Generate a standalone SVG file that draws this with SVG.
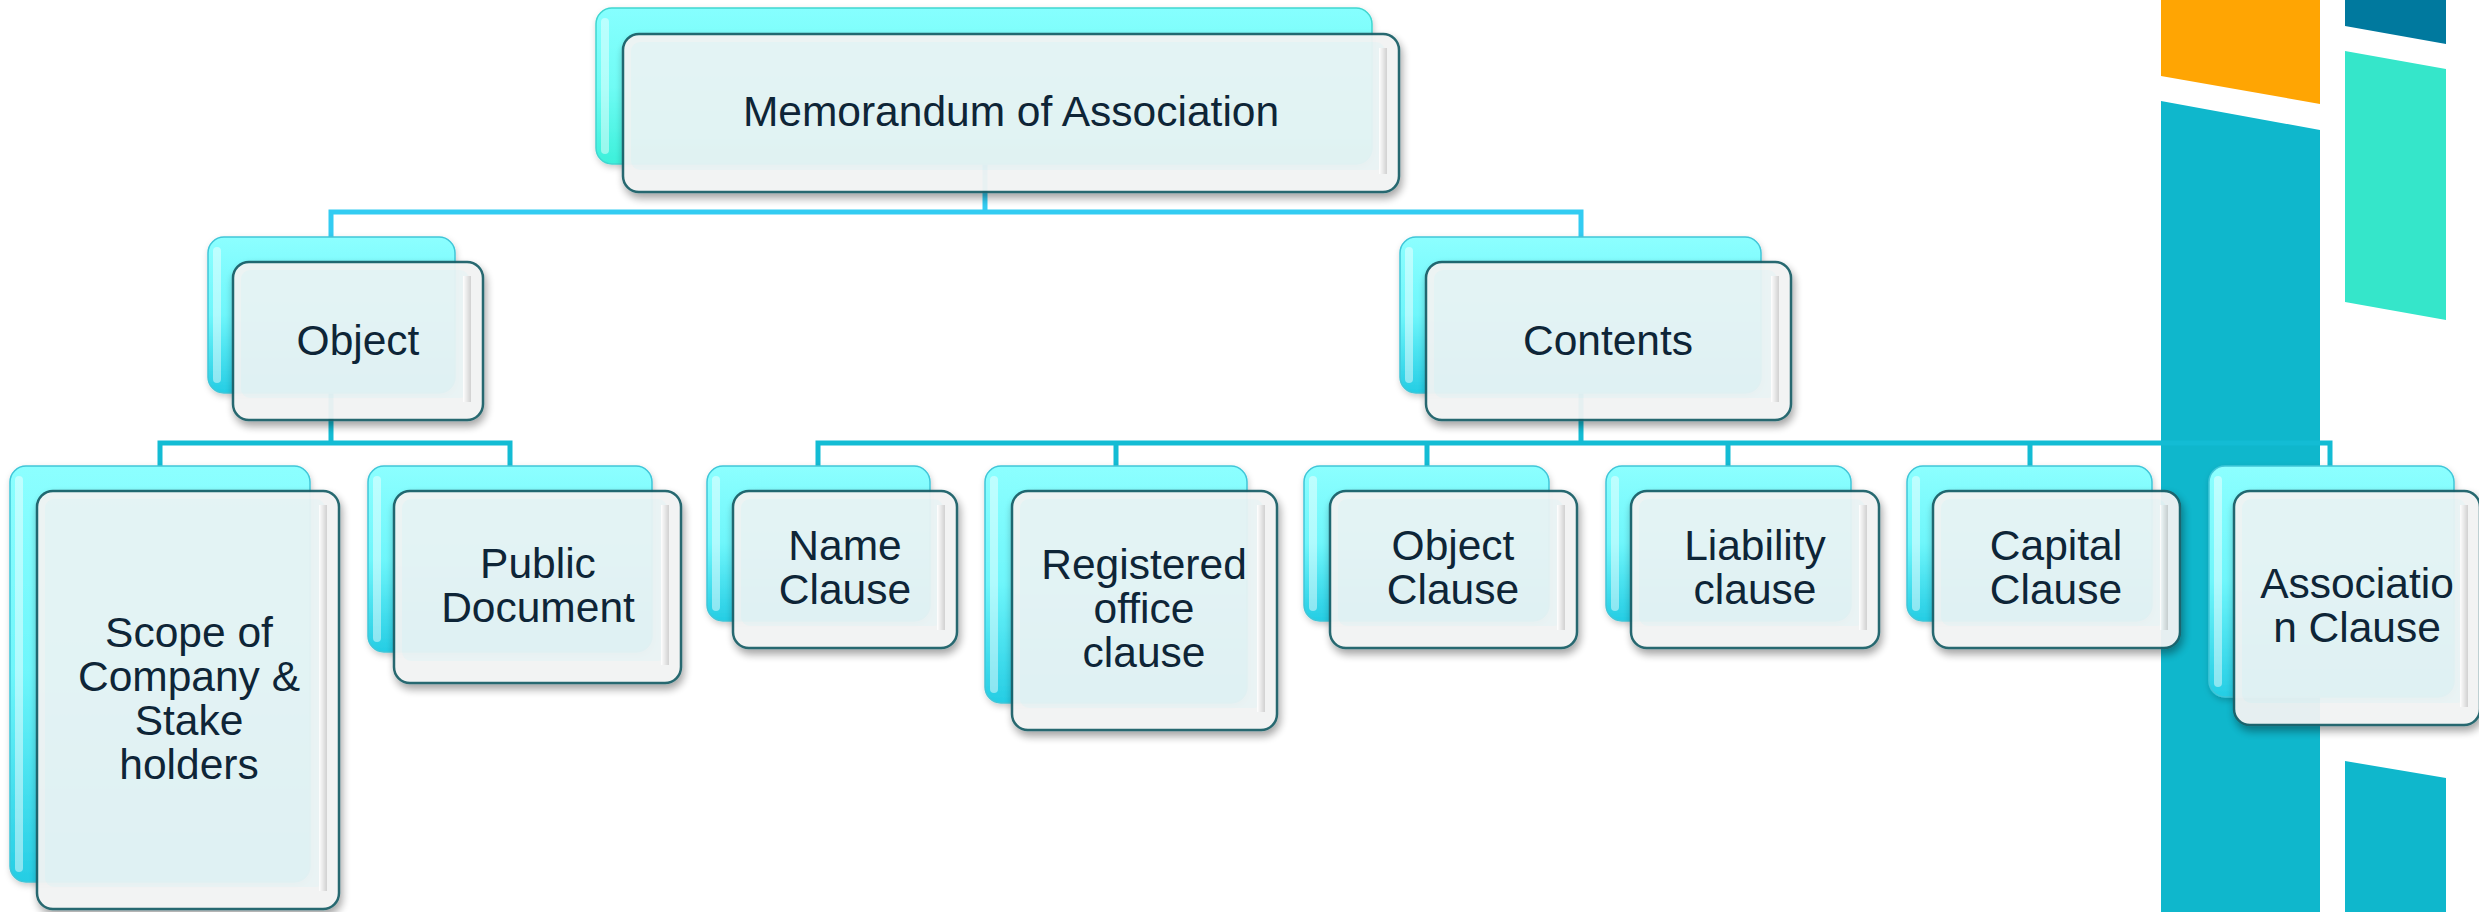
<svg xmlns="http://www.w3.org/2000/svg" width="2479" height="912" viewBox="0 0 2479 912">
<defs>
<style>
.c1{fill:none;stroke:#33CCF2;stroke-width:5}
.c2{fill:none;stroke:#13BCD4;stroke-width:5}
.bk{fill:url(#gB);stroke:#40C6D8;stroke-width:1.5;filter:url(#sh2)}
.bkt{fill:url(#gBt);stroke:#40D6D0;stroke-width:1.5;filter:url(#sh2)}
.bh{fill:#FFFFFF;opacity:.45}
.fo{fill:#F2F3F3;stroke:#1B6169;stroke-width:2.5;filter:url(#sh)}
.fi{fill:#E9F3F4}
.fr{fill:url(#gR)}
.fg{opacity:.95}
.t{font-family:"Liberation Sans",Arial,sans-serif;font-size:42.5px;fill:#0E2537;text-anchor:middle}
</style>
<linearGradient id="gB" x1="0" y1="0" x2="0" y2="1">
<stop offset="0" stop-color="#8CFFFF"/>
<stop offset="0.5" stop-color="#6EF6FB"/>
<stop offset="1" stop-color="#25CDE4"/>
</linearGradient>
<linearGradient id="gBt" x1="0" y1="0" x2="0" y2="1">
<stop offset="0" stop-color="#86FFFF"/>
<stop offset="0.5" stop-color="#70FCF5"/>
<stop offset="1" stop-color="#3CF0DA"/>
</linearGradient>
<linearGradient id="gR" x1="0" y1="0" x2="1" y2="0">
<stop offset="0" stop-color="#FFFFFF"/>
<stop offset="1" stop-color="#CFCFCF"/>
</linearGradient>
<filter id="sh" x="-10%" y="-10%" width="125%" height="135%">
<feDropShadow dx="2" dy="5" stdDeviation="4" flood-color="#000" flood-opacity=".38"/>
</filter>
<filter id="sh2" x="-10%" y="-10%" width="125%" height="135%">
<feDropShadow dx="1" dy="3" stdDeviation="3" flood-color="#000" flood-opacity=".2"/>
</filter>
</defs>
<rect width="2479" height="912" fill="#FFFFFF"/>
<g id="decor">
<polygon points="2161,0 2320,0 2320,104 2161,76" fill="#FFA503"/>
<polygon points="2161,101 2320,130 2320,912 2161,912" fill="#0FB7CC"/>
<polygon points="2345,0 2446,0 2446,44 2345,26" fill="#00799E"/>
<polygon points="2345,51 2446,69 2446,320 2345,302" fill="#35E6CA"/>
<polygon points="2345,761 2446,778 2446,912 2345,912" fill="#0FB7CC"/>
</g>
<g id="connectors">
<path class="c1" d="M985,160 V212"/>
<path class="c1" d="M331,240 V212 H1581 V240"/>
<path class="c2" d="M331,390 V443"/>
<path class="c2" d="M160,469 V443 H510 V469"/>
<path class="c2" d="M1581,390 V443"/>
<path class="c2" d="M818,469 V443 H2330 V469"/>
<path class="c2" d="M1116,443 V469 M1427,443 V469 M1728,443 V469 M2030,443 V469"/>
</g>
<g id="n-memorandum">
<rect class="bkt" x="596" y="8" width="776" height="156" rx="16"/>
<rect class="bh" x="601" y="18" width="8" height="136" rx="4"/>
<g class="fg">
<rect class="fo" x="623" y="34" width="776" height="158" rx="16"/>
<rect class="fi" x="631" y="42" width="754" height="128" rx="9"/>
<rect class="fr" x="1379" y="48" width="8" height="126"/>
</g>
<text class="t" x="1011" y="126">Memorandum of Association</text>
</g>
<g id="n-object">
<rect class="bk" x="208" y="237" width="247" height="156" rx="16"/>
<rect class="bh" x="213" y="247" width="8" height="136" rx="4"/>
<g class="fg">
<rect class="fo" x="233" y="262" width="250" height="158" rx="16"/>
<rect class="fi" x="241" y="270" width="228" height="128" rx="9"/>
<rect class="fr" x="463" y="276" width="8" height="126"/>
</g>
<text class="t" x="358" y="355">Object</text>
</g>
<g id="n-contents">
<rect class="bk" x="1400" y="237" width="361" height="156" rx="16"/>
<rect class="bh" x="1405" y="247" width="8" height="136" rx="4"/>
<g class="fg">
<rect class="fo" x="1426" y="262" width="365" height="158" rx="16"/>
<rect class="fi" x="1434" y="270" width="343" height="128" rx="9"/>
<rect class="fr" x="1771" y="276" width="8" height="126"/>
</g>
<text class="t" x="1608" y="355">Contents</text>
</g>
<g id="n-scope">
<rect class="bk" x="10" y="466" width="300" height="416" rx="16"/>
<rect class="bh" x="15" y="476" width="8" height="396" rx="4"/>
<g class="fg">
<rect class="fo" x="37" y="491" width="302" height="418" rx="16"/>
<rect class="fi" x="45" y="499" width="280" height="388" rx="9"/>
<rect class="fr" x="319" y="505" width="8" height="386"/>
</g>
<text class="t"><tspan x="189" y="647">Scope of</tspan><tspan x="189" y="691">Company &amp;</tspan><tspan x="189" y="735">Stake</tspan><tspan x="189" y="779">holders</tspan></text>
</g>
<g id="n-public">
<rect class="bk" x="368" y="466" width="284" height="186" rx="16"/>
<rect class="bh" x="373" y="476" width="8" height="166" rx="4"/>
<g class="fg">
<rect class="fo" x="394" y="491" width="287" height="192" rx="16"/>
<rect class="fi" x="402" y="499" width="265" height="162" rx="9"/>
<rect class="fr" x="661" y="505" width="8" height="160"/>
</g>
<text class="t"><tspan x="538" y="578">Public</tspan><tspan x="538" y="622">Document</tspan></text>
</g>
<g id="n-name">
<rect class="bk" x="707" y="466" width="223" height="155" rx="16"/>
<rect class="bh" x="712" y="476" width="8" height="135" rx="4"/>
<g class="fg">
<rect class="fo" x="733" y="491" width="224" height="157" rx="16"/>
<rect class="fi" x="741" y="499" width="202" height="127" rx="9"/>
<rect class="fr" x="937" y="505" width="8" height="125"/>
</g>
<text class="t"><tspan x="845" y="560">Name</tspan><tspan x="845" y="604">Clause</tspan></text>
</g>
<g id="n-registered">
<rect class="bk" x="985" y="466" width="262" height="237" rx="16"/>
<rect class="bh" x="990" y="476" width="8" height="217" rx="4"/>
<g class="fg">
<rect class="fo" x="1012" y="491" width="265" height="239" rx="16"/>
<rect class="fi" x="1020" y="499" width="243" height="209" rx="9"/>
<rect class="fr" x="1257" y="505" width="8" height="207"/>
</g>
<text class="t"><tspan x="1144" y="579">Registered</tspan><tspan x="1144" y="623">office</tspan><tspan x="1144" y="667">clause</tspan></text>
</g>
<g id="n-objectclause">
<rect class="bk" x="1304" y="466" width="245" height="155" rx="16"/>
<rect class="bh" x="1309" y="476" width="8" height="135" rx="4"/>
<g class="fg">
<rect class="fo" x="1330" y="491" width="247" height="157" rx="16"/>
<rect class="fi" x="1338" y="499" width="225" height="127" rx="9"/>
<rect class="fr" x="1557" y="505" width="8" height="125"/>
</g>
<text class="t"><tspan x="1453" y="560">Object</tspan><tspan x="1453" y="604">Clause</tspan></text>
</g>
<g id="n-liability">
<rect class="bk" x="1606" y="466" width="245" height="155" rx="16"/>
<rect class="bh" x="1611" y="476" width="8" height="135" rx="4"/>
<g class="fg">
<rect class="fo" x="1631" y="491" width="248" height="157" rx="16"/>
<rect class="fi" x="1639" y="499" width="226" height="127" rx="9"/>
<rect class="fr" x="1859" y="505" width="8" height="125"/>
</g>
<text class="t"><tspan x="1755" y="560">Liability</tspan><tspan x="1755" y="604">clause</tspan></text>
</g>
<g id="n-capital">
<rect class="bk" x="1907" y="466" width="245" height="155" rx="16"/>
<rect class="bh" x="1912" y="476" width="8" height="135" rx="4"/>
<g class="fg">
<rect class="fo" x="1933" y="491" width="247" height="157" rx="16"/>
<rect class="fi" x="1941" y="499" width="225" height="127" rx="9"/>
<rect class="fr" x="2160" y="505" width="8" height="125"/>
</g>
<text class="t"><tspan x="2056" y="560">Capital</tspan><tspan x="2056" y="604">Clause</tspan></text>
</g>
<g id="n-association">
<rect class="bk" x="2209" y="466" width="245" height="231" rx="16"/>
<rect class="bh" x="2214" y="476" width="8" height="211" rx="4"/>
<g class="fg">
<rect class="fo" x="2234" y="491" width="246" height="234" rx="16"/>
<rect class="fi" x="2242" y="499" width="224" height="204" rx="9"/>
<rect class="fr" x="2460" y="505" width="8" height="202"/>
</g>
<text class="t"><tspan x="2357" y="598">Associatio</tspan><tspan x="2357" y="642">n Clause</tspan></text>
</g>
</svg>
